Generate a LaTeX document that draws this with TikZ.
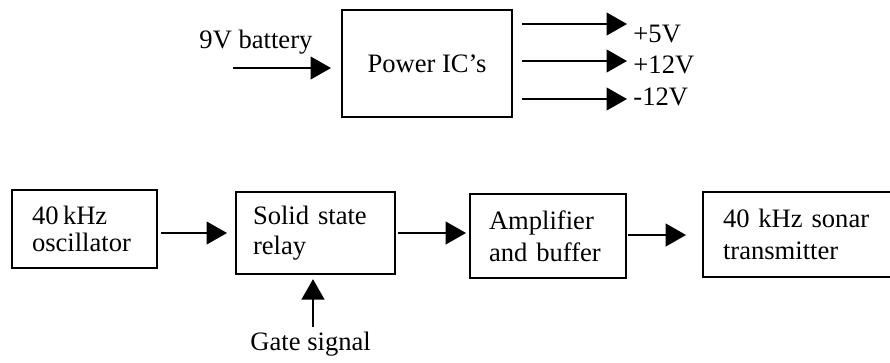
\documentclass[tikz,border=0pt]{standalone}
\usepackage{fontspec}
\setmainfont{Liberation Serif}
\usetikzlibrary{arrows.meta,calc}
\begin{document}
\begin{tikzpicture}[x=0.44pt,y=-0.44pt,
  every node/.style={font=\fontsize{11.7}{13.5}\selectfont},
  blk/.style={draw,line width=0.9pt,inner sep=0pt,align=left},
  lbl/.style={inner sep=0pt,anchor=base west},
  arr/.style={line width=0.9pt,-{Triangle[length=9pt,width=10pt]}}]
\useasboundingbox (0,0) rectangle (890,362);
\clip (0,0) rectangle (890,362);
% power section
\node[blk,minimum width=170*0.44pt,minimum height=107*0.44pt,align=center] (pic) at (427,63.5) {Power IC's};
\node[lbl] (bat) at (199,48) {9V battery};
\coordinate (batin) at (233,68);
\draw[arr] (batin) -- (batin -| pic.west) [shorten >=4.4pt];
\coordinate (o1) at (627,24);
\coordinate (o2) at (627,61);
\coordinate (o3) at (627,99);
\draw[arr,shorten <=4pt] (pic.east |- o1) -- (o1);
\draw[arr,shorten <=4pt] (pic.east |- o2) -- (o2);
\draw[arr,shorten <=4pt] (pic.east |- o3) -- (o3);
\node[lbl] (v5) at (633,42) {+5V};
\node[lbl] (v12) at (633,73) {+12V};
\node[lbl] (vm12) at (633,105) {-12V};
% signal chain
\node[blk,minimum width=145*0.44pt,minimum height=78*0.44pt,text width=105*0.44pt,
  font=\fontsize{11.7}{11.9}\selectfont] (osc) at (84.5,229) {40\,kHz\\oscillator};
\node[blk,minimum width=159*0.44pt,minimum height=82*0.44pt,text width=125*0.44pt,
  font=\fontsize{11.7}{13.2}\selectfont] (ssr) at (315.5,233) {Solid state\\relay};
\node[blk,minimum width=156*0.44pt,minimum height=84*0.44pt,text width=118*0.44pt,
  font=\fontsize{11.7}{14}\selectfont] (amp) at (548,236) {Amplifier\\and buffer};
\node[blk,minimum width=210*0.44pt,minimum height=85*0.44pt,text width=170*0.44pt,
  font=\fontsize{11.7}{14}\selectfont] (tx) at (808,234.5) {40 kHz sonar\\transmitter};
\coordinate (y1) at (0,233);
\coordinate (y3) at (0,235);
\draw[arr,shorten <=1.3pt,shorten >=3.5pt] (osc.east |- y1) -- (ssr.west |- y1);
\draw[arr,shorten <=1pt,shorten >=1.3pt] (ssr.east |- y1) -- (amp.west |- y1);
\draw[arr,shorten <=0.5pt,shorten >=7pt] (amp.east |- y3) -- (tx.west |- y3);
\node[lbl] (gate) at (250,350) {Gate signal};
\coordinate (gin) at (313,327);
\draw[arr,shorten >=1.8pt] (gin) -- (gin |- ssr.south);
\end{tikzpicture}
\end{document}
